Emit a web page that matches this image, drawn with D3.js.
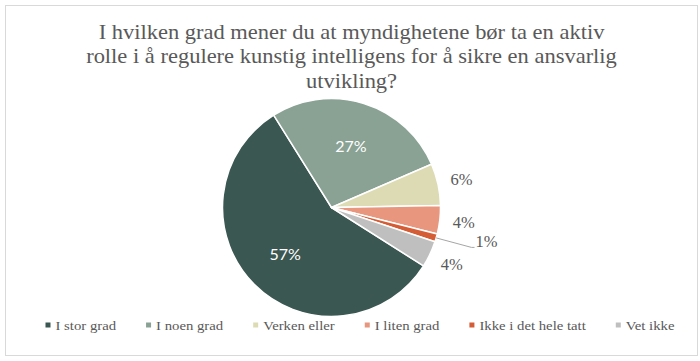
<!DOCTYPE html>
<html>
<head>
<meta charset="utf-8">
<script src="https://cdn.jsdelivr.net/npm/d3@7"></script>
<style>
  html, body { margin: 0; padding: 0; background: #fff; }
  svg { display: block; }
</style>
</head>
<body>
<svg id="chart" width="700" height="361"></svg>
<script>
// ---- data ----
const titleLines = [
  "I hvilken grad mener du at myndighetene bør ta en aktiv",
  "rolle i å regulere kunstig intelligens for å sikre en ansvarlig",
  "utvikling?"
];
const categories = ["I stor grad", "I noen grad", "Verken eller", "I liten grad", "Ikke i det hele tatt", "Vet ikke"];
const values = [57.1, 27.4, 6.2, 4.2, 1.2, 3.9];
const colors = ["#3b5751", "#89a294", "#dddbb4", "#e8967e", "#d45d36", "#bfbfbf"];

// ---- layout ----
const W = 700, H = 361;
const cx = 331.5, cy = 207.5, R = 109;
const startDeg = 122.4;
const textColor = "#595959";
const serif = "'Liberation Serif', 'Times New Roman', serif";

const svg = d3.select("#chart");
svg.append("rect").attr("x", 0).attr("y", 0).attr("width", W).attr("height", H).attr("fill", "#fff");
svg.append("rect").attr("x", 5.5).attr("y", 5.5).attr("width", 692).attr("height", 350)
  .attr("fill", "none").attr("stroke", "#d9d9d9").attr("stroke-width", 1);

// ---- title ----
const tg = svg.append("g").attr("transform", `translate(351.5,0)`);
const titleBase = [39, 63.5, 88];
const tInner = tg.append("g");
tInner.selectAll("text").data(titleLines).join("text")
  .attr("x", 0).attr("y", (d, i) => titleBase[i])
  .attr("text-anchor", "middle")
  .attr("font-family", serif).attr("font-size", 21)
  .attr("fill", textColor)
  .text(d => d);
const nat2 = tInner.selectAll("text").nodes()[1].getComputedTextLength();
const sx = 531 / nat2;
tInner.attr("transform", `scale(${sx},1)`);

// ---- pie ----
const a0 = startDeg * Math.PI / 180;
const pie = d3.pie().sort(null).value(d => d.v).startAngle(a0).endAngle(a0 + 2 * Math.PI);
const data = categories.map((c, i) => ({ c, v: values[i], col: colors[i] }));
const arcs = pie(data);
const arc = d3.arc().innerRadius(0).outerRadius(R);

const pg = svg.append("g").attr("transform", `translate(${cx},${cy})`);
pg.selectAll("path").data(arcs).join("path")
  .attr("d", arc)
  .attr("fill", d => d.data.col)
  .attr("stroke", "#fff").attr("stroke-width", 1.5).attr("stroke-linejoin", "round");

// labels
const fmt = v => Math.round(v) + "%";
const midA = d => (d.startAngle + d.endAngle) / 2;
arcs.forEach(d => {
  const a = midA(d);
  const sa = Math.sin(a), ca = -Math.cos(a);
  const pct = d.data.v;
  if (pct >= 20) {
    const rr = R * 0.6;
    pg.append("text")
      .attr("x", sa * rr).attr("y", ca * rr)
      .attr("text-anchor", "middle").attr("dominant-baseline", "central")
      .attr("font-family", "Lato, 'Open Sans', sans-serif").attr("font-size", 16)
      .attr("fill", "#fff")
      .text(fmt(pct));
  } else if (pct >= 2) {
    const rr = R + 24;
    pg.append("text")
      .attr("x", sa * rr).attr("y", ca * rr)
      .attr("text-anchor", "middle").attr("dominant-baseline", "central")
      .attr("font-family", serif).attr("font-size", 16.5)
      .attr("fill", textColor)
      .text(fmt(pct));
  } else {
    const px = sa * R, py = ca * R;
    const lx = R + 46, ly = py + 4;
    pg.append("polyline")
      .attr("points", `${px},${py} ${lx - 15},${ly + 5.5} ${lx - 12},${ly + 5.5}`)
      .attr("fill", "none").attr("stroke", "#a6a6a6").attr("stroke-width", 1);
    pg.append("text")
      .attr("x", lx).attr("y", ly)
      .attr("text-anchor", "middle").attr("dominant-baseline", "central")
      .attr("font-family", serif).attr("font-size", 16.5)
      .attr("fill", textColor)
      .text(fmt(pct));
  }
});

// ---- legend ----
const lg = svg.append("g");
const legY = 329.5, mk = 5, txtOff = 10, gap = 30, legCenter = 360;
const items = lg.selectAll("g").data(data).join("g");
items.append("rect").attr("width", mk).attr("height", mk).attr("y", legY - 7).attr("fill", d => d.col);
const lt = items.append("text")
  .attr("x", txtOff).attr("y", legY)
  .attr("font-family", serif).attr("font-size", 13.5)
  .attr("fill", textColor)
  .text(d => d.c);
const natW = lt.nodes().map(n => n.getComputedTextLength());
const targetTotal = 419;
const ls = targetTotal / d3.sum(natW);
lt.attr("textLength", (d, i) => natW[i] * ls).attr("lengthAdjust", "spacingAndGlyphs");
const widths = natW.map(w => w * ls + txtOff);
const total = d3.sum(widths) + gap * (widths.length - 1);
let x = legCenter - total / 2;
items.attr("transform", (d, i) => {
  const t = `translate(${x},0)`;
  x += widths[i] + gap;
  return t;
});
</script>
</body>
</html>
